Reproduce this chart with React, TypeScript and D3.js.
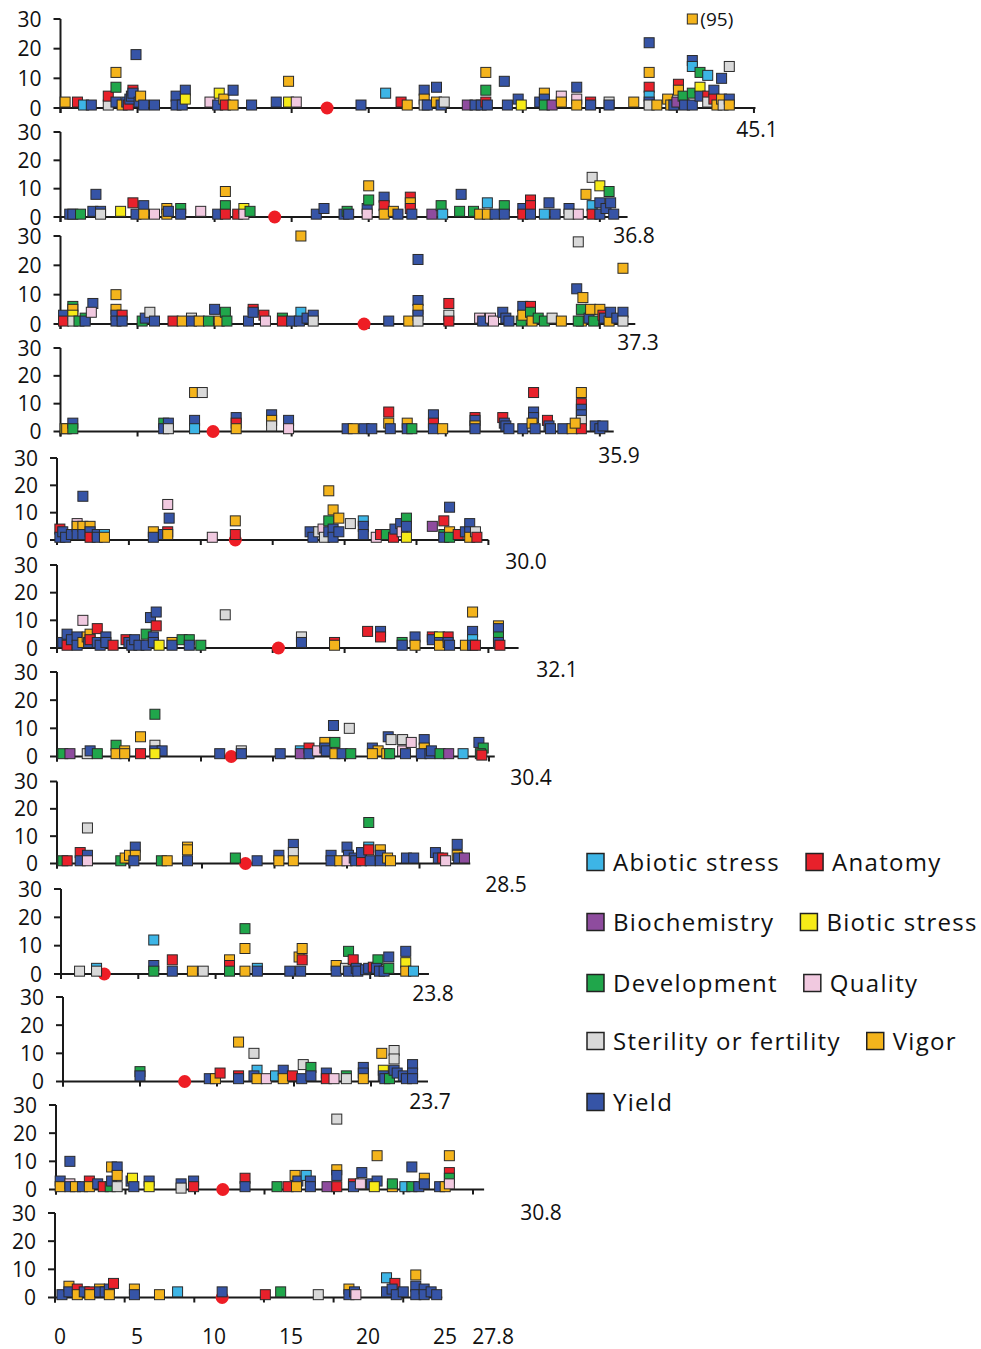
import React, { useEffect, useRef } from "react";
import * as d3 from "d3";

const width = 981;
const height = 1349;

// trait categories
const categoryCodes = ["A", "N", "B", "S", "D", "Q", "F", "V", "Y"];
const categoryNames = [
  "Abiotic stress",
  "Anatomy",
  "Biochemistry",
  "Biotic stress",
  "Development",
  "Quality",
  "Sterility or fertility",
  "Vigor",
  "Yield",
];
const categoryColors = [
  "#3DB5E6",
  "#E8212B",
  "#8E4C9E",
  "#F6EA18",
  "#20A64B",
  "#F1C9E0",
  "#D9D9D9",
  "#F4B41C",
  "#3654A6",
];

// chromosome lengths (Mb) and centromere positions (Mb)
const chrLengths = [45.1, 36.8, 37.3, 35.9, 30.0, 32.1, 30.4, 28.5, 23.8, 23.7, 30.8, 27.8];
const centromeres = [17.3, 13.9, 19.7, 9.9, 12.4, 15.4, 12.1, 13.0, 2.8, 7.9, 12.0, 12.0];

const yTicks = [0, 10, 20, 30];
const bottomLabels = [0, 5, 10, 15, 20, 25, 27.8];

// [position Mb, count, category]
const chr1 = [
  [0.3, 2, "V"], [1.1, 2, "N"], [1.5, 1, "A"], [2.0, 1, "Y"], [3.1, 1, "F"], [3.1, 4, "N"],
  [3.6, 12, "V"], [3.6, 7, "D"], [3.6, 2, "Y"], [4.0, 1, "V"], [4.3, 2, "Y"], [4.4, 1, "N"],
  [4.5, 3, "Y"], [4.6, 4, "Y"], [4.7, 6, "N"], [4.7, 5, "Y"], [4.9, 18, "Y"], [5.1, 2, "Y"],
  [5.2, 4, "V"], [5.4, 1, "Y"], [6.1, 1, "Y"], [7.5, 4, "Y"], [7.5, 1, "Y"], [7.9, 1, "Y"],
  [8.1, 6, "Y"], [8.1, 3, "S"], [9.7, 2, "Q"], [10.2, 1, "Y"], [10.3, 5, "S"], [10.6, 3, "V"],
  [10.7, 1, "N"], [11.2, 6, "Y"], [11.2, 1, "V"], [12.4, 1, "Y"], [14.0, 2, "Y"], [14.8, 9, "V"],
  [14.8, 2, "S"], [15.3, 2, "Q"], [19.5, 1, "Y"], [21.1, 5, "A"], [22.1, 2, "N"], [22.5, 1, "V"],
  [23.6, 6, "Y"], [23.6, 3, "V"], [23.6, 1, "F"], [23.8, 1, "Y"], [24.4, 7, "Y"], [24.4, 2, "V"],
  [24.7, 1, "Y"], [24.9, 2, "F"], [26.4, 1, "B"], [26.9, 1, "Y"], [27.3, 1, "Y"], [27.6, 12, "V"],
  [27.6, 6, "D"], [27.6, 2, "N"], [27.7, 1, "Y"], [28.8, 9, "Y"], [29.0, 1, "Y"], [29.7, 3, "Y"],
  [29.9, 1, "S"], [31.1, 2, "Y"], [31.4, 5, "V"], [31.4, 3, "Y"], [31.4, 1, "D"], [31.9, 1, "B"],
  [32.5, 4, "Q"], [32.5, 2, "V"], [33.5, 7, "Y"], [33.5, 3, "Q"], [33.5, 1, "V"], [34.4, 2, "N"],
  [34.4, 1, "Y"], [35.6, 2, "F"], [35.6, 1, "Y"], [37.2, 2, "V"], [38.2, 22, "Y"], [38.2, 12, "V"],
  [38.2, 7, "N"], [38.2, 4, "A"], [38.2, 2, "Y"], [38.2, 1, "F"], [38.7, 1, "V"], [39.4, 3, "V"],
  [39.6, 1, "V"], [39.8, 1, "Y"], [40.0, 2, "B"], [40.1, 8, "N"], [40.1, 6, "V"], [40.4, 4, "D"],
  [40.5, 1, "Y"], [41.0, 95, "V"], [41.0, 16, "Y"], [41.0, 14, "A"], [41.0, 5, "D"], [41.0, 1, "Y"],
  [41.5, 12, "D"], [41.5, 7, "S"], [41.5, 4, "Y"], [42.0, 11, "A"], [42.0, 4, "N"], [42.0, 2, "F"],
  [42.4, 6, "Y"], [42.4, 3, "N"], [42.6, 1, "V"], [42.9, 10, "Y"], [42.9, 3, "V"], [43.0, 1, "F"],
  [43.4, 14, "F"], [43.4, 3, "Y"], [43.4, 1, "V"],
];

const chr2 = [
  [0.6, 1, "Y"], [0.8, 1, "Y"], [1.3, 1, "D"], [2.1, 2, "Y"], [2.3, 8, "Y"], [2.6, 2, "Y"],
  [2.6, 1, "F"], [3.9, 2, "S"], [4.7, 5, "N"], [4.9, 1, "Y"], [5.4, 4, "Y"], [5.4, 1, "V"],
  [6.1, 1, "Q"], [6.9, 3, "V"], [6.9, 1, "V"], [7.0, 2, "Y"], [7.8, 3, "D"], [7.8, 1, "Y"],
  [9.1, 2, "Q"], [10.2, 1, "Y"], [10.7, 9, "V"], [10.7, 4, "D"], [10.7, 1, "N"], [11.5, 1, "N"],
  [11.9, 3, "S"], [11.9, 1, "Q"], [12.3, 2, "D"], [16.6, 1, "Y"], [17.1, 3, "Y"], [18.4, 1, "Y"],
  [18.6, 2, "D"], [18.7, 1, "Y"], [19.9, 3, "Y"], [19.9, 1, "Q"], [20.0, 11, "V"], [20.0, 6, "D"],
  [21.0, 7, "Y"], [21.0, 4, "N"], [21.0, 1, "V"], [21.6, 2, "V"], [21.9, 1, "Y"], [22.7, 7, "N"],
  [22.7, 5, "V"], [22.7, 3, "N"], [22.8, 1, "Y"], [24.1, 1, "B"], [24.7, 4, "D"], [24.8, 1, "A"],
  [25.9, 2, "D"], [26.0, 8, "Y"], [26.8, 2, "D"], [27.2, 1, "V"], [27.7, 5, "A"], [27.7, 1, "V"],
  [28.2, 1, "Y"], [28.8, 4, "D"], [28.8, 1, "Y"], [30.0, 3, "Y"], [30.0, 1, "N"], [30.5, 6, "N"],
  [30.5, 4, "N"], [30.5, 1, "Y"], [31.4, 1, "A"], [31.7, 5, "Y"], [32.1, 1, "Y"], [33.0, 3, "Y"],
  [33.0, 1, "F"], [33.6, 1, "Q"], [34.1, 8, "V"], [34.5, 14, "F"], [34.5, 4, "A"], [34.5, 1, "N"],
  [35.0, 11, "S"], [35.0, 5, "Y"], [35.0, 1, "Y"], [35.4, 3, "Y"], [35.6, 9, "D"], [35.7, 5, "Y"],
  [35.9, 1, "Y"],
];

const chr3 = [
  [0.2, 3, "Y"], [0.2, 1, "N"], [0.8, 6, "D"], [0.8, 5, "V"], [0.8, 3, "S"], [0.8, 1, "F"],
  [1.2, 1, "D"], [1.6, 2, "D"], [1.6, 1, "Y"], [2.1, 7, "Y"], [2.0, 4, "Q"], [3.6, 10, "V"],
  [3.6, 5, "V"], [3.6, 3, "Y"], [3.6, 1, "Y"], [4.0, 3, "N"], [4.0, 1, "Y"], [5.3, 1, "D"],
  [5.5, 2, "Y"], [5.8, 4, "F"], [6.1, 1, "Y"], [7.3, 1, "N"], [7.9, 1, "V"], [8.5, 2, "F"],
  [8.5, 1, "Y"], [9.0, 1, "V"], [9.6, 1, "D"], [10.0, 5, "Y"], [10.3, 1, "V"], [10.7, 4, "D"],
  [10.8, 1, "D"], [12.2, 1, "Y"], [12.5, 5, "N"], [12.5, 4, "Y"], [13.2, 3, "N"], [13.3, 1, "Q"],
  [14.4, 2, "D"], [14.4, 1, "N"], [15.0, 1, "Y"], [15.6, 30, "V"], [15.6, 4, "A"], [15.5, 1, "Y"],
  [16.0, 2, "Y"], [16.4, 3, "Y"], [16.4, 1, "F"], [21.3, 1, "Y"], [22.6, 1, "V"], [23.2, 22, "Y"],
  [23.2, 8, "Y"], [23.2, 5, "V"], [23.2, 3, "Y"], [23.2, 1, "F"], [25.2, 7, "N"], [25.2, 3, "F"],
  [25.2, 1, "N"], [27.2, 2, "Q"], [27.4, 1, "Y"], [27.9, 2, "Q"], [28.1, 1, "Q"], [28.7, 4, "Y"],
  [28.9, 2, "Y"], [29.1, 1, "Y"], [29.9, 1, "D"], [30.0, 6, "Y"], [30.0, 3, "V"], [30.5, 6, "N"],
  [30.5, 4, "D"], [30.6, 1, "V"], [31.0, 2, "D"], [31.4, 1, "D"], [31.9, 2, "F"], [32.5, 1, "V"],
  [33.5, 12, "Y"], [33.6, 28, "F"], [33.8, 1, "V"], [33.8, 5, "D"], [33.6, 1, "D"], [33.9, 9, "V"],
  [34.3, 2, "Y"], [34.4, 5, "V"], [34.6, 1, "D"], [35.0, 5, "V"], [35.2, 3, "N"], [35.3, 2, "Y"],
  [35.6, 1, "V"], [35.7, 4, "Y"], [36.1, 2, "Y"], [36.5, 19, "V"], [36.5, 4, "Y"], [36.5, 1, "F"],
];

const chr4 = [
  [0.3, 1, "S"], [0.4, 1, "V"], [0.8, 3, "Y"], [0.8, 1, "D"], [6.7, 3, "D"], [7.0, 3, "Y"],
  [6.7, 1, "Y"], [7.0, 1, "F"], [8.7, 14, "V"], [9.2, 14, "F"], [8.7, 4, "Y"], [8.7, 1, "A"],
  [11.4, 5, "Y"], [11.4, 3, "N"], [11.4, 1, "V"], [13.7, 6, "Y"], [13.7, 4, "V"], [13.7, 2, "F"],
  [14.8, 4, "Y"], [14.8, 1, "Q"], [18.6, 1, "Y"], [19.0, 1, "V"], [19.7, 1, "Y"], [20.2, 1, "Y"],
  [21.3, 7, "N"], [21.3, 3, "V"], [21.4, 1, "Y"], [22.5, 3, "V"], [22.5, 1, "Y"], [22.8, 1, "D"],
  [24.2, 6, "Y"], [24.2, 3, "N"], [24.2, 1, "Y"], [24.8, 1, "V"], [26.9, 5, "N"], [26.9, 4, "Y"],
  [26.9, 2, "V"], [26.9, 1, "Y"], [28.7, 5, "N"], [28.8, 3, "Y"], [28.9, 2, "Y"], [29.1, 1, "Y"],
  [30.0, 1, "Y"], [30.7, 14, "N"], [30.7, 7, "Y"], [30.7, 5, "Y"], [30.6, 3, "V"], [30.8, 1, "Y"],
  [31.6, 4, "N"], [31.7, 2, "Y"], [31.8, 1, "Y"], [32.6, 1, "Y"], [33.2, 1, "V"], [33.8, 14, "V"],
  [33.8, 10, "N"], [33.8, 8, "Y"], [33.8, 6, "Y"], [33.8, 4, "F"], [33.8, 1, "N"], [33.4, 3, "V"],
  [34.7, 2, "Y"], [35.0, 1, "Y"], [35.2, 2, "Y"],
];

const chr5 = [
  [0.2, 4, "N"], [0.2, 1, "Y"], [0.4, 3, "Y"], [0.6, 1, "Y"], [1.0, 2, "Y"], [1.4, 6, "Q"],
  [1.4, 5, "V"], [1.4, 2, "Y"], [1.8, 16, "Y"], [1.8, 5, "V"], [1.8, 2, "Y"], [2.3, 5, "V"],
  [2.3, 3, "Y"], [2.3, 1, "N"], [2.8, 2, "Y"], [2.8, 1, "Y"], [3.3, 2, "A"], [3.3, 1, "V"],
  [6.7, 3, "V"], [6.7, 1, "Y"], [7.4, 2, "Y"], [7.7, 13, "Q"], [7.7, 3, "N"], [7.7, 2, "V"],
  [7.8, 8, "Y"], [10.8, 1, "Q"], [12.4, 7, "V"], [12.4, 2, "N"], [17.6, 3, "Y"], [17.8, 1, "Y"],
  [18.2, 3, "F"], [18.5, 4, "Q"], [18.6, 1, "F"], [18.9, 7, "D"], [18.9, 18, "V"], [18.9, 3, "Y"],
  [19.2, 11, "V"], [19.2, 4, "Y"], [19.2, 1, "Y"], [19.6, 8, "V"], [19.6, 3, "Y"], [20.4, 6, "F"],
  [21.3, 7, "A"], [21.3, 5, "Y"], [21.3, 2, "Y"], [22.2, 1, "Q"], [22.5, 2, "N"], [22.9, 2, "D"],
  [23.4, 1, "N"], [23.5, 4, "Y"], [23.9, 6, "Y"], [24.0, 3, "Q"], [24.3, 8, "D"], [24.3, 5, "Y"],
  [24.3, 1, "S"], [26.1, 5, "B"], [26.9, 7, "N"], [26.9, 2, "D"], [26.9, 1, "Y"], [27.3, 12, "Y"],
  [27.3, 3, "V"], [27.3, 1, "D"], [27.9, 2, "N"], [28.4, 3, "Y"], [28.7, 6, "Y"], [28.7, 3, "Y"],
  [28.7, 1, "V"], [29.1, 3, "F"], [29.2, 1, "N"],
];

const chr6 = [
  [0.4, 2, "Y"], [0.7, 5, "Y"], [0.7, 1, "N"], [1.0, 3, "Y"], [1.4, 4, "Y"], [1.4, 1, "Y"],
  [1.8, 10, "Q"], [1.8, 2, "V"], [2.1, 4, "V"], [2.2, 2, "Y"], [2.3, 5, "V"], [2.3, 3, "N"],
  [2.8, 7, "N"], [2.8, 2, "Y"], [3.0, 1, "Y"], [3.4, 4, "Y"], [3.4, 2, "Y"], [3.9, 1, "N"],
  [4.8, 3, "N"], [5.0, 2, "Y"], [5.2, 1, "Y"], [5.4, 3, "Y"], [5.7, 1, "Y"], [6.2, 1, "Y"],
  [6.2, 5, "D"], [6.5, 11, "Y"], [6.7, 4, "Y"], [6.7, 2, "Y"], [6.9, 13, "Y"], [6.9, 8, "N"],
  [7.1, 1, "S"], [8.0, 2, "V"], [8.0, 1, "Y"], [8.7, 3, "D"], [9.2, 3, "D"], [9.2, 1, "Y"],
  [10.0, 1, "D"], [11.7, 12, "F"], [17.0, 4, "F"], [17.0, 2, "Y"], [19.3, 2, "N"], [19.3, 1, "V"],
  [21.6, 6, "N"], [22.5, 6, "Y"], [22.5, 4, "N"], [24.0, 2, "D"], [24.0, 1, "Y"], [24.9, 4, "Y"],
  [24.9, 1, "V"], [26.1, 4, "N"], [26.1, 3, "Y"], [26.6, 4, "S"], [26.6, 2, "Y"], [26.6, 1, "V"],
  [27.2, 4, "N"], [27.2, 2, "Y"], [27.3, 1, "Y"], [28.4, 1, "V"], [28.9, 13, "V"], [28.9, 6, "Y"],
  [28.9, 3, "A"], [28.9, 1, "Y"], [29.1, 1, "N"], [30.7, 8, "V"], [30.7, 7, "Y"], [30.7, 4, "D"],
  [30.7, 2, "Y"], [30.8, 1, "N"],
];

const chr7 = [
  [0.4, 1, "D"], [0.9, 1, "B"], [2.1, 1, "F"], [2.3, 2, "Y"], [2.8, 1, "D"], [4.1, 4, "D"],
  [4.1, 1, "V"], [4.7, 2, "V"], [4.7, 1, "V"], [5.8, 1, "N"], [6.8, 15, "D"], [5.8, 7, "V"],
  [6.8, 4, "F"], [6.8, 2, "Y"], [7.3, 2, "Y"], [6.8, 1, "S"], [11.3, 1, "Y"], [12.8, 2, "F"],
  [12.8, 1, "Y"], [15.5, 1, "Y"], [16.9, 2, "A"], [16.9, 1, "B"], [17.5, 3, "N"], [17.5, 1, "Y"],
  [18.1, 2, "Q"], [18.6, 5, "V"], [18.6, 3, "Y"], [18.7, 2, "Y"], [19.2, 11, "Y"], [19.3, 5, "D"],
  [19.3, 1, "V"], [19.8, 1, "Y"], [20.3, 10, "F"], [20.4, 1, "D"], [21.9, 3, "Y"], [22.3, 2, "V"],
  [21.9, 1, "V"], [22.9, 1, "V"], [23.1, 1, "D"], [23.0, 7, "Y"], [23.2, 6, "F"], [24.0, 6, "F"],
  [24.0, 2, "Q"], [24.2, 1, "Y"], [24.6, 5, "Q"], [25.5, 6, "Y"], [25.5, 3, "V"], [25.3, 1, "Y"],
  [25.9, 1, "Y"], [26.0, 2, "Y"], [26.6, 1, "D"], [27.2, 1, "B"], [28.2, 1, "A"], [29.3, 5, "Y"],
  [29.6, 3, "D"], [29.4, 1, "D"], [29.5, 0.5, "N"],
];

const chr8 = [
  [0.4, 1, "D"], [0.7, 1, "N"], [1.6, 4, "N"], [1.6, 1, "Y"], [2.1, 13, "F"], [2.1, 3, "Y"],
  [2.1, 1, "Q"], [4.4, 1, "D"], [4.7, 2, "V"], [5.0, 3, "V"], [5.4, 6, "Y"], [5.4, 3, "V"],
  [5.3, 1, "Y"], [7.2, 1, "D"], [7.6, 1, "V"], [9.0, 6, "V"], [9.0, 5, "V"], [9.0, 1, "Y"],
  [12.3, 2, "D"], [13.8, 1, "Y"], [15.3, 3, "Y"], [15.3, 1, "V"], [16.3, 7, "Y"], [16.3, 4, "F"],
  [16.3, 1, "V"], [18.9, 3, "Y"], [18.9, 1, "Y"], [19.5, 1, "V"], [20.0, 6, "Y"], [20.1, 3, "Y"],
  [20.0, 1, "Q"], [20.5, 2, "Y"], [20.6, 1, "Y"], [21.0, 1, "N"], [21.0, 4, "Y"], [21.5, 15, "D"],
  [21.5, 6, "A"], [21.5, 5, "N"], [21.6, 1, "Y"], [22.3, 5, "V"], [22.3, 3, "Y"], [22.3, 1, "Y"],
  [22.8, 2, "V"], [23.0, 1, "V"], [24.1, 2, "Y"], [24.6, 2, "Y"], [26.1, 4, "Y"], [26.3, 2, "Y"],
  [26.6, 2, "N"], [26.8, 1, "Q"], [27.6, 7, "Y"], [27.6, 3, "V"], [27.7, 2, "Y"], [28.1, 2, "B"],
];

const chr9 = [
  [1.2, 1, "F"], [2.3, 2, "A"], [2.3, 1, "F"], [6.0, 12, "A"], [6.0, 3, "Y"], [6.0, 1, "D"],
  [7.2, 5, "N"], [7.2, 1, "Y"], [8.5, 1, "V"], [9.2, 1, "F"], [10.9, 5, "V"], [10.9, 3, "N"],
  [10.9, 1, "D"], [11.9, 16, "D"], [11.9, 9, "V"], [11.9, 1, "V"], [12.7, 2, "A"], [12.7, 1, "Y"],
  [14.8, 1, "Y"], [15.4, 6, "V"], [15.6, 9, "V"], [15.6, 5, "N"], [15.5, 1, "Y"], [17.8, 3, "V"],
  [17.8, 1, "Y"], [18.4, 2, "F"], [18.6, 8, "D"], [18.9, 5, "N"], [18.6, 1, "Y"], [19.1, 2, "Y"],
  [19.2, 1, "Y"], [19.7, 1.5, "Y"], [19.9, 2, "Y"], [20.2, 2.4, "N"], [20.5, 5, "D"], [20.4, 2, "Y"],
  [20.6, 1, "Y"], [20.9, 1, "Y"], [21.2, 6, "Y"], [21.2, 2, "D"], [22.3, 8, "Y"], [22.3, 4, "S"],
  [22.3, 1, "V"], [22.8, 1, "A"],
];

const chr10 = [
  [5.0, 3.5, "D"], [5.0, 2, "Y"], [9.5, 1, "Y"], [9.9, 1, "V"], [10.2, 3, "N"], [11.4, 14, "V"],
  [11.4, 2, "N"], [11.4, 1, "Y"], [12.4, 10, "F"], [12.6, 4, "A"], [12.4, 2, "Y"], [12.6, 1, "V"],
  [13.2, 1, "Q"], [13.8, 2, "A"], [14.3, 4, "Y"], [14.3, 1, "V"], [14.9, 2, "N"], [15.5, 1, "Y"],
  [15.6, 6, "F"], [16.1, 5, "D"], [16.1, 2, "Y"], [17.1, 3, "Y"], [17.1, 1, "N"], [17.6, 1, "Q"],
  [18.4, 2, "D"], [18.4, 1, "F"], [19.5, 5, "Y"], [19.5, 3, "Y"], [19.5, 1, "V"], [20.7, 10, "V"],
  [20.8, 4, "S"], [20.8, 2, "Y"], [20.9, 1, "Y"], [21.2, 1, "D"], [21.5, 11, "F"], [21.5, 8, "F"],
  [21.5, 4, "Y"], [21.7, 3, "Y"], [22.1, 2, "Y"], [22.3, 1, "Y"], [22.7, 6, "Y"], [22.7, 3, "Y"],
  [22.7, 1, "Y"],
];

const chr11 = [
  [0.3, 3, "Y"], [0.3, 1, "V"], [1.0, 10, "Y"], [1.0, 2, "Q"], [1.0, 1, "Y"], [1.4, 1, "V"],
  [1.9, 1, "Y"], [2.4, 3, "N"], [2.4, 1, "V"], [3.0, 2, "Y"], [3.4, 1, "N"], [3.9, 1, "D"],
  [4.0, 3, "Y"], [4.0, 8, "V"], [4.4, 8, "Y"], [4.4, 5, "V"], [4.4, 1, "F"], [5.4, 3, "Y"],
  [5.5, 4, "S"], [5.6, 1, "Y"], [6.7, 3, "Y"], [6.7, 1, "S"], [9.0, 2, "Y"], [9.0, 0.5, "F"],
  [9.9, 3, "Y"], [9.9, 1, "N"], [13.6, 4, "N"], [13.6, 1, "Y"], [15.9, 1, "D"], [16.7, 1, "N"],
  [17.2, 5, "V"], [17.4, 3, "Y"], [17.3, 1, "V"], [18.0, 5, "A"], [18.3, 3, "Y"], [18.3, 1, "Y"],
  [19.5, 1, "B"], [20.2, 25, "F"], [20.2, 7, "V"], [20.2, 5, "Y"], [20.2, 1, "N"], [21.4, 2, "N"],
  [21.4, 1, "Y"], [21.9, 2, "Q"], [22.0, 6, "Y"], [22.7, 2, "Y"], [23.1, 12, "V"], [23.1, 3, "Y"],
  [22.9, 1, "S"], [24.2, 1, "V"], [24.2, 2, "D"], [25.1, 1, "A"], [25.6, 8, "Y"], [25.6, 1, "D"],
  [26.1, 1, "Y"], [26.5, 4, "V"], [26.5, 2, "Y"], [27.6, 1, "Y"], [28.0, 1, "V"], [28.3, 12, "V"],
  [28.3, 6, "N"], [28.3, 4, "D"], [28.3, 2, "Q"],
];

const chr12 = [
  [0.5, 1, "Y"], [1.0, 4, "V"], [1.0, 2, "Y"], [1.6, 3, "N"], [1.6, 1, "V"], [2.1, 2, "Y"],
  [2.5, 2, "N"], [2.5, 1, "V"], [3.2, 3, "V"], [3.2, 2, "Y"], [3.6, 2, "Y"], [3.9, 3, "Y"],
  [3.9, 1, "V"], [4.2, 5, "N"], [5.7, 3, "V"], [5.7, 1, "Y"], [7.5, 1, "V"], [8.8, 2, "A"],
  [12.0, 2, "Y"], [15.1, 1, "N"], [16.2, 2, "D"], [18.9, 1, "F"], [21.1, 3, "V"], [21.1, 1, "Y"],
  [21.5, 2, "Y"], [21.6, 1, "Q"], [23.8, 7, "A"], [23.8, 2, "Y"], [24.4, 5, "N"], [24.2, 3, "Y"],
  [24.5, 1, "Y"], [25.0, 2, "Y"], [25.9, 8, "V"], [25.9, 4, "Y"], [25.9, 1, "Y"], [26.5, 3, "Y"],
  [26.5, 1, "Y"], [27.0, 2, "Y"], [27.4, 1, "Y"],
];

const chromosomes = [chr1, chr2, chr3, chr4, chr5, chr6, chr7, chr8, chr9, chr10, chr11, chr12];

// panel layout (pixels)
const panelZero = [108, 217, 324, 431.5, 540, 648, 756.5, 863.5, 974, 1081.5, 1189.5, 1297.5];
const panelTop = [19, 132, 236, 348, 458, 565, 672, 781.5, 889, 997, 1105, 1213];
const axisX0 = [60.5, 60.5, 60.5, 60.5, 57, 57, 57, 57, 61, 63, 56, 55];
const pxPerMb = [15.41, 15.41, 15.41, 15.41, 14.38, 14.38, 14.4, 14.5, 15.46, 15.4, 13.9, 13.93];
const lengthLabelPos = [
  [757, 129], [634, 235], [638, 342], [619, 455], [526, 561], [557, 669],
  [531, 777], [506, 884], [433, 993], [430, 1101], [541, 1212],
];

const legendRows = [[0, 1], [2, 3], [4, 5], [6, 7], [8]];
const legendRowY = [862, 922, 983, 1041, 1102];

const FONT = "'Open Sans', 'Noto Sans', sans-serif";
const AXIS = "#1a1a1a";

const App = () => {
  const ref = useRef<SVGSVGElement>(null);

  useEffect(() => {
    document.body.style.margin = "0";
    const svg = d3.select(ref.current);
    svg.selectAll("*").remove();

    const colorOf = d3.scaleOrdinal<string, string>().domain(categoryCodes).range(categoryColors);

    chromosomes.forEach((pts, i) => {
      const len = chrLengths[i];
      const x = d3
        .scaleLinear()
        .domain([0, len])
        .range([axisX0[i], axisX0[i] + len * pxPerMb[i]]);
      const y = d3.scaleLinear().domain([0, 30]).range([panelZero[i], panelTop[i]]);
      const g = svg.append("g");

      // y axis
      g.append("line")
        .attr("x1", x(0)).attr("x2", x(0))
        .attr("y1", y(30)).attr("y2", y(0) + 5)
        .attr("stroke", AXIS).attr("stroke-width", 2);
      g.selectAll(".yt")
        .data(yTicks)
        .join("line")
        .attr("x1", x(0) - 7).attr("x2", x(0))
        .attr("y1", (d) => y(d)).attr("y2", (d) => y(d))
        .attr("stroke", AXIS).attr("stroke-width", 2);
      g.selectAll(".yl")
        .data(yTicks)
        .join("text")
        .attr("x", x(0) - 19)
        .attr("y", (d) => y(d))
        .attr("dy", "0.36em")
        .attr("text-anchor", "end")
        .attr("font-family", FONT)
        .attr("font-size", 21)
        .attr("fill", "#111")
        .text((d) => d);

      // x axis
      g.append("line")
        .attr("x1", x(0)).attr("x2", x(len))
        .attr("y1", y(0)).attr("y2", y(0))
        .attr("stroke", AXIS).attr("stroke-width", 2);
      g.selectAll(".xt")
        .data(d3.range(0, len + 0.01, 5))
        .join("line")
        .attr("x1", (d) => x(d)).attr("x2", (d) => x(d))
        .attr("y1", y(0)).attr("y2", y(0) + 5)
        .attr("stroke", AXIS).attr("stroke-width", 2);

      // centromere
      g.append("circle")
        .attr("cx", x(centromeres[i]))
        .attr("cy", y(0))
        .attr("r", 6.5)
        .attr("fill", "#EE1D25");

      // QTL squares
      const s = 10;
      g.selectAll(".pt")
        .data(pts)
        .join("rect")
        .attr("x", (d: any) => x(d[0]) - s / 2)
        .attr("y", (d: any) => y(Math.min(d[1], 30)) - s / 2)
        .attr("width", s)
        .attr("height", s)
        .attr("fill", (d: any) => colorOf(d[2]))
        .attr("stroke", "#2a2a2a")
        .attr("stroke-width", 1);

      // off-scale values
      g.selectAll(".over")
        .data(pts.filter((d: any) => d[1] > 30))
        .join("text")
        .attr("x", (d: any) => x(d[0]) + 8)
        .attr("y", y(30))
        .attr("dy", "0.36em")
        .attr("font-family", FONT)
        .attr("font-size", 19)
        .attr("fill", "#111")
        .text((d: any) => `(${d[1]})`);

      // chromosome length label
      if (i < lengthLabelPos.length) {
        g.append("text")
          .attr("x", lengthLabelPos[i][0])
          .attr("y", lengthLabelPos[i][1])
          .attr("dy", "0.36em")
          .attr("text-anchor", "middle")
          .attr("font-family", FONT)
          .attr("font-size", 21)
          .attr("fill", "#111")
          .text(len.toFixed(1));
      }
    });

    // bottom labels
    const xb = d3.scaleLinear().domain([0, 25]).range([60, 445]);
    svg.append("g")
      .selectAll("text")
      .data(bottomLabels)
      .join("text")
      .attr("x", (d) => xb(d) + (d % 5 ? 5 : 0))
      .attr("y", 1336)
      .attr("dy", "0.36em")
      .attr("text-anchor", "middle")
      .attr("font-family", FONT)
      .attr("font-size", 21)
      .attr("fill", "#111")
      .text((d) => String(d));

    // legend
    const legend = svg.append("g");
    legendRows.forEach((row, r) => {
      let cx = 587;
      row.forEach((ci) => {
        legend.append("rect")
          .attr("x", cx)
          .attr("y", legendRowY[r] - 8.5)
          .attr("width", 17)
          .attr("height", 17)
          .attr("fill", categoryColors[ci])
          .attr("stroke", "#222")
          .attr("stroke-width", 1.5);
        const t = legend.append("text")
          .attr("x", cx + 26)
          .attr("y", legendRowY[r])
          .attr("dy", "0.36em")
          .attr("font-family", FONT)
          .attr("font-size", 24)
          .attr("letter-spacing", 1.3)
          .attr("fill", "#111")
          .text(categoryNames[ci]);
        const w = (t.node() as SVGTextElement).getComputedTextLength();
        cx = cx + 26 + w + 26;
      });
    });
  }, []);

  return (
    <svg
      ref={ref}
      width={width}
      height={height}
      viewBox={`0 0 ${width} ${height}`}
      style={{ display: "block", background: "#fff" }}
    ></svg>
  );
};

export default App;
